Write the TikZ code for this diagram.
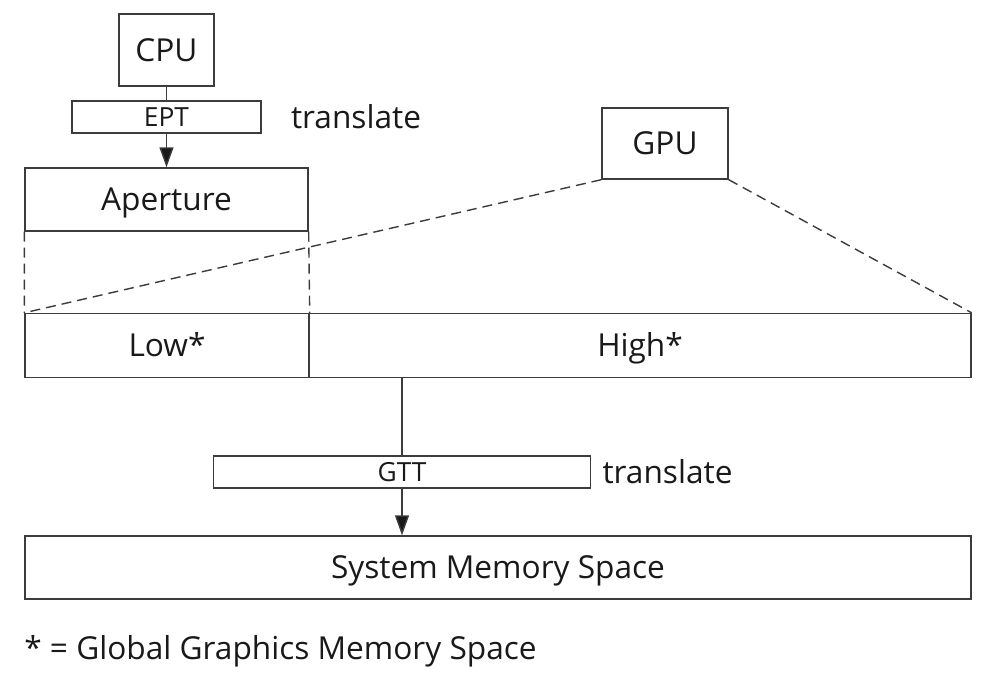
\documentclass[tikz,border=0pt]{standalone}
\usepackage{fontspec}
\setmainfont{Open Sans}
\usepackage{tikz}
\usetikzlibrary{arrows.meta, positioning}
\definecolor{linegray}{RGB}{60,60,60}
\definecolor{textdark}{RGB}{25,25,25}
\newcommand{\bigtext}{\fontsize{18}{22}\selectfont}
\newcommand{\smalltext}{\fontsize{15}{18}\selectfont}
\tikzset{
  membox/.style={draw=linegray, line width=0.8pt, text=textdark, inner sep=0pt, font=\bigtext, text height=12.9pt, text depth=0pt},
  tblbox/.style={draw=linegray, line width=0.8pt, text=textdark, inner sep=0pt, font=\smalltext, text height=10.7pt, text depth=0pt, minimum height=0.64cm},
  lbl/.style={text=textdark, inner sep=0pt, font=\bigtext},
  link/.style={linegray, line width=0.8pt},
  span/.style={linegray, line width=0.8pt, dash pattern=on 0.2cm off 0.12cm}
}

\begin{document}
\begin{tikzpicture}[x=0.02cm, y=-0.02cm]
  \useasboundingbox (0,0) rectangle (1000,688);
  % CPU side
  \node[membox, minimum width=1.9cm, minimum height=1.44cm] (cpu) at (166.5,50) {CPU};
  \node[tblbox, minimum width=3.78cm] (ept) at (166.5,117) {EPT};
  \node[lbl, anchor=west, right=0.58cm of ept] (eptnote) {translate};
  \node[membox, minimum width=5.66cm, minimum height=1.26cm] (aperture) at (166.5,199.5) {Aperture};
  % GPU
  \node[membox, minimum width=2.52cm, minimum height=1.42cm] (gpu) at (665,143.5) {GPU};
  % graphics memory
  \node[membox, minimum width=5.68cm, minimum height=1.28cm] (low) at (167,345.5) {Low*};
  \node[membox, minimum width=13.24cm, minimum height=1.28cm] (high) at (640,345.5) {High*};
  \node[tblbox, minimum width=7.54cm] (gtt) at (402,472) {GTT};
  \node[lbl, anchor=west, right=0.22cm of gtt] (gttnote) {translate};
  \node[membox, minimum width=18.92cm, minimum height=1.26cm] (sys) at (498,567.5) {System Memory Space};
  \node[lbl, anchor=west] (legend) at (24,651) {* = Global Graphics Memory Space};
  % connectors
  \draw[link] (cpu.south) -- (ept.north);
  \draw[link, -{Triangle[length=0.4cm, width=0.28cm, fill=textdark]}] (ept.south) -- (aperture.north);
  \draw[link] (gtt |- high.south) -- (gtt.north);
  \draw[link, -{Triangle[length=0.4cm, width=0.28cm, fill=textdark]}] (gtt.south) -- (gtt |- sys.north);
  % spans
  \draw[span] (aperture.south west) -- (low.north west);
  \draw[span] (aperture.south east) -- (low.north east);
  \draw[span] (gpu.south west) -- (low.north west);
  \draw[span] (gpu.south east) -- (high.north east);
\end{tikzpicture}
\end{document}
